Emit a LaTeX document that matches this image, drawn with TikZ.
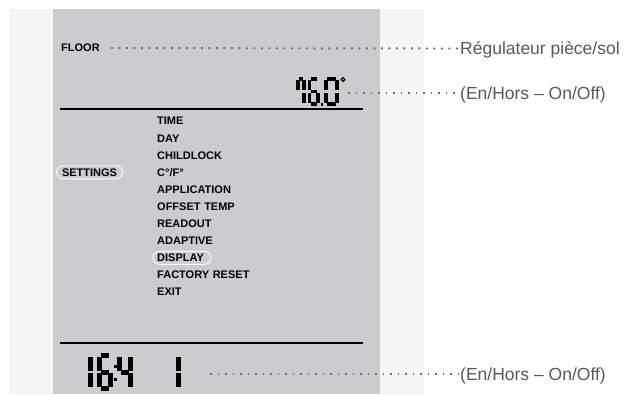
\documentclass[tikz,border=0pt]{standalone}
\usepackage{fontspec}
\setmainfont{Liberation Sans}
\usepackage{xcolor}
\usepackage{tikz}
\usetikzlibrary{positioning}

\definecolor{panelbg}{HTML}{F5F5F5}
\definecolor{lcdbg}{HTML}{CBCCCE}
\definecolor{labelgray}{HTML}{58595B}
\definecolor{dotgray}{HTML}{6D6E71}

% one seven-segment digit: left, top, width, height, list of segments
\newcommand{\lcddigit}[5]{%
  \begin{scope}[shift={(#1,#2)}]
    \coordinate (TL) at (0,0);
    \coordinate (TR) at (#3,0);
    \coordinate (ML) at (0,#4/2);
    \coordinate (MR) at (#3,#4/2);
    \coordinate (BL) at (0,#4);
    \coordinate (BR) at (#3,#4);
    \foreach \p/\q in {#5} \draw[lcdseg] (\p) -- (\q);
  \end{scope}
}

\begin{document}
\begin{tikzpicture}[
    x=1pt, y=-1pt,
    node distance=8.8pt and 34pt,
    item/.style={inner sep=0pt, font=\bfseries\fontsize{11}{12}\selectfont, text height=7.9pt, text depth=0pt, text width=100pt, align=left},
    pill/.style={draw=white, line width=0.9pt, rounded corners=6.5pt},
    tag/.style={inner sep=0pt, font=\bfseries\fontsize{11}{12}\selectfont, text height=7.9pt, text depth=0pt},
    callout/.style={inner sep=2pt, text=labelgray, font=\fontsize{17.5}{20}\selectfont, text height=12.5pt, text depth=0pt},
    dotline/.style={dotgray, line width=1.9pt, dash pattern=on 1.9pt off 5.6pt},
    rule/.style={line width=1.3pt},
    lcdseg/.style={line width=3.8pt, shorten <=1.1pt, shorten >=1.1pt}
]

% background panels
\fill[white] (0,0) rectangle (629,394);
\fill[panelbg] (9,9) rectangle (424,394);
\fill[lcdbg] (53,9) rectangle (380,394);

% separators
\draw[rule] (60,109) -- (363,109);
\draw[rule] (60,343) -- (363,343);

% top line
\node (floor) [tag, anchor=west] at (61,48) {FLOOR};

% temperature 76.0
\lcddigit{297.9}{78.9}{6.2}{25.2}{TL/TR, TR/MR, MR/BR, TL/ML}
\lcddigit{309.4}{78.9}{8.7}{25.2}{TL/TR, TL/ML, ML/MR, ML/BL, BL/BR, MR/BR}
\fill (320.5,103) rectangle (323.3,106);
\lcddigit{325.9}{78.9}{11.2}{25.2}{TL/TR, TR/MR, MR/BR, BL/BR, ML/BL, TL/ML}
\draw[line width=1.2pt] (343,79.5) circle (1.9);
\coordinate (tempend) at (348,93);

% menu
\node (time) [item, anchor=west] at (157,121) {TIME};
\node (day) [item, below=of time] {DAY};
\node (childlock) [item, below=of day] {CHILDLOCK};
\node (cf) [item, below=of childlock] {C°/F°};
\node (application) [item, below=of cf] {APPLICATION};
\node (offset) [item, below=of application] {OFFSET TEMP};
\node (readout) [item, below=of offset] {READOUT};
\node (adaptive) [item, below=of readout] {ADAPTIVE};
\node (display) [item, below=of adaptive] {DISPLAY};
\node (factory) [item, below=of display] {FACTORY RESET};
\node (exit) [item, below=of factory] {EXIT};

\node (settings) [tag, pill, inner xsep=5.5pt, inner ysep=2.6pt, left=of cf] {SETTINGS};
\draw[pill] ([shift={(-4pt,-6.5pt)}]display.west) rectangle ([shift={(54pt,6.5pt)}]display.west);

% clock 16:41
\begin{scope}[lcdseg/.append style={line width=5pt, shorten <=1.4pt, shorten >=1.4pt}]
\lcddigit{90}{355.5}{11}{33}{TL/ML, ML/BL}
\lcddigit{99.5}{355.5}{11}{33}{TL/TR, TL/ML, ML/MR, ML/BL, BL/BR, MR/BR}
\lcddigit{119.5}{355.5}{11}{33}{TL/ML, ML/MR, TR/MR, MR/BR}
\lcddigit{178}{355.5}{11}{33}{TL/ML, ML/BL}
\end{scope}
\fill (114,364.5) rectangle (117,367.5);
\fill (114,377.5) rectangle (117,380.5);
\coordinate (clockend) at (210,374);

% callouts
\node (lblroom) [callout, anchor=west] at (458,48.5) {Régulateur pièce/sol};
\node (lbltemp) [callout, anchor=west] at (458,93) {(En/Hors – On/Off)};
\node (lblclock) [callout, anchor=west] at (458,374) {(En/Hors – On/Off)};

\draw [dotline, shorten <=11pt] (floor.east) -- (lblroom.west);
\draw [dotline] (tempend) -- (lbltemp.west);
\draw [dotline] (clockend) -- (lblclock.west);

\end{tikzpicture}
\end{document}
